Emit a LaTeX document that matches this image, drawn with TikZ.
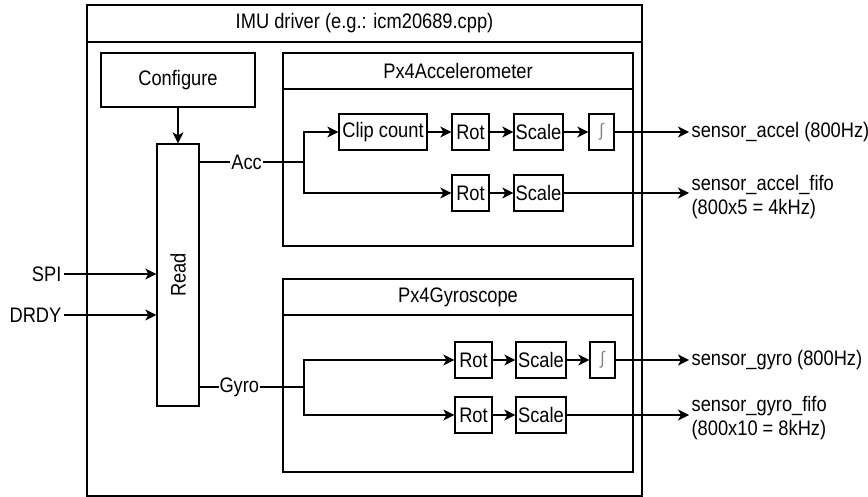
\documentclass[tikz,border=0pt]{standalone}
\usepackage{fontspec}
\setmainfont{Liberation Sans}[FakeStretch=0.87]
\usetikzlibrary{arrows.meta}
\begin{document}
\begin{tikzpicture}[x=1pt,y=-1pt,
  font=\fontsize{21}{24}\selectfont,
  line width=1.3pt,
  box/.style={draw, inner sep=0pt, minimum height=36pt},
  lbl/.style={inner sep=1pt, fill=white},
  outlbl/.style={anchor=west, inner sep=2pt, align=left},
  arr/.style={-{Stealth[length=11pt,width=11pt,inset=3pt]}},
  intsym/.style={box, minimum width=25pt, font=\fontsize{18}{18}\selectfont, text=gray}
]
\useasboundingbox (0,0) rectangle (868,497);
% outer container
\node[draw, inner sep=0pt, minimum width=555pt, minimum height=491pt] (outer) at (364.5,250.5) {};
\draw (87,42) -- (642,42);
\node (title) at (364.5,23) {IMU driver (e.g.: icm20689.cpp)};
% configure and read
\node[draw, inner sep=0pt, minimum width=154pt, minimum height=54pt] (conf) at (178,80) {Configure};
\node[draw, inner sep=0pt, minimum width=42pt, minimum height=262pt] (read) at (178,275) {};
\node[rotate=90] (readtxt) at (178,275) {Read};
\draw[arr] (conf) -- (read);
% inputs
\node[anchor=east, inner sep=2pt] (spi) at (64,274) {SPI};
\node[anchor=east, inner sep=2pt] (drdy) at (64,315) {DRDY};
\draw[arr] (spi.east) -- (spi.east -| read.west);
\draw[arr] (drdy.east) -- (drdy.east -| read.west);
% accelerometer container
\node[draw, inner sep=0pt, minimum width=350pt, minimum height=193pt] (acc) at (458,149.5) {};
\draw (283,89) -- (633,89);
\node (acctitle) at (458,71) {Px4Accelerometer};
% gyro container
\node[draw, inner sep=0pt, minimum width=350pt, minimum height=193pt] (gyr) at (458,375.5) {};
\draw (283,315) -- (633,315);
\node (gyrtitle) at (458,297) {Px4Gyroscope};
% accel row 1
\node[box, minimum width=88pt] (clip) at (383,132) {Clip count};
\node[box, minimum width=37pt] (rotA) at (470.5,132) {Rot};
\node[box, minimum width=49pt] (scaA) at (538.5,132) {Scale};
\node[intsym] (intA) at (601.5,132) {∫};
% accel row 2
\node[box, minimum width=37pt] (rotB) at (470.5,193) {Rot};
\node[box, minimum width=49pt] (scaB) at (538.5,193) {Scale};
% gyro row 1
\node[box, minimum width=37pt] (rotC) at (473.5,360) {Rot};
\node[box, minimum width=50pt] (scaC) at (541,360) {Scale};
\node[intsym] (intC) at (602.5,360) {∫};
% gyro row 2
\node[box, minimum width=37pt] (rotD) at (473.5,415) {Rot};
\node[box, minimum width=50pt] (scaD) at (541,415) {Scale};
% junctions
\coordinate (jA) at (304,162);
\coordinate (jG) at (304,387);
\draw (read.east |- jA) -- node[lbl, pos=0.45] (acclbl) {Acc} (jA);
\draw (read.east |- jG) -- node[lbl, pos=0.38] (gyrlbl) {Gyro} (jG);
\draw[arr] (jA) |- (clip.west);
\draw[arr] (jA) |- (rotB.west);
\draw[arr] (jG) |- (rotC.west);
\draw[arr] (jG) |- (rotD.west);
\draw[arr] (clip) -- (rotA);
\draw[arr] (rotA) -- (scaA);
\draw[arr] (scaA) -- (intA);
\draw[arr] (rotB) -- (scaB);
\draw[arr] (rotC) -- (scaC);
\draw[arr] (scaC) -- (intC);
\draw[arr] (rotD) -- (scaD);
% outputs
\node[outlbl] (outA) at (689,132) {sensor\_accel (800Hz)};
\node[outlbl] (outB) at (689,197) {sensor\_accel\_fifo\\(800x5 = 4kHz)};
\node[outlbl] (outC) at (689,360) {sensor\_gyro (800Hz)};
\node[outlbl] (outD) at (689,418) {sensor\_gyro\_fifo\\(800x10 = 8kHz)};
\draw[arr] (intA.east) -- (outA.west);
\draw[arr] (scaB.east) -- (scaB.east -| outB.west);
\draw[arr] (intC.east) -- (outC.west);
\draw[arr] (scaD.east) -- (scaD.east -| outD.west);
\end{tikzpicture}
\end{document}
